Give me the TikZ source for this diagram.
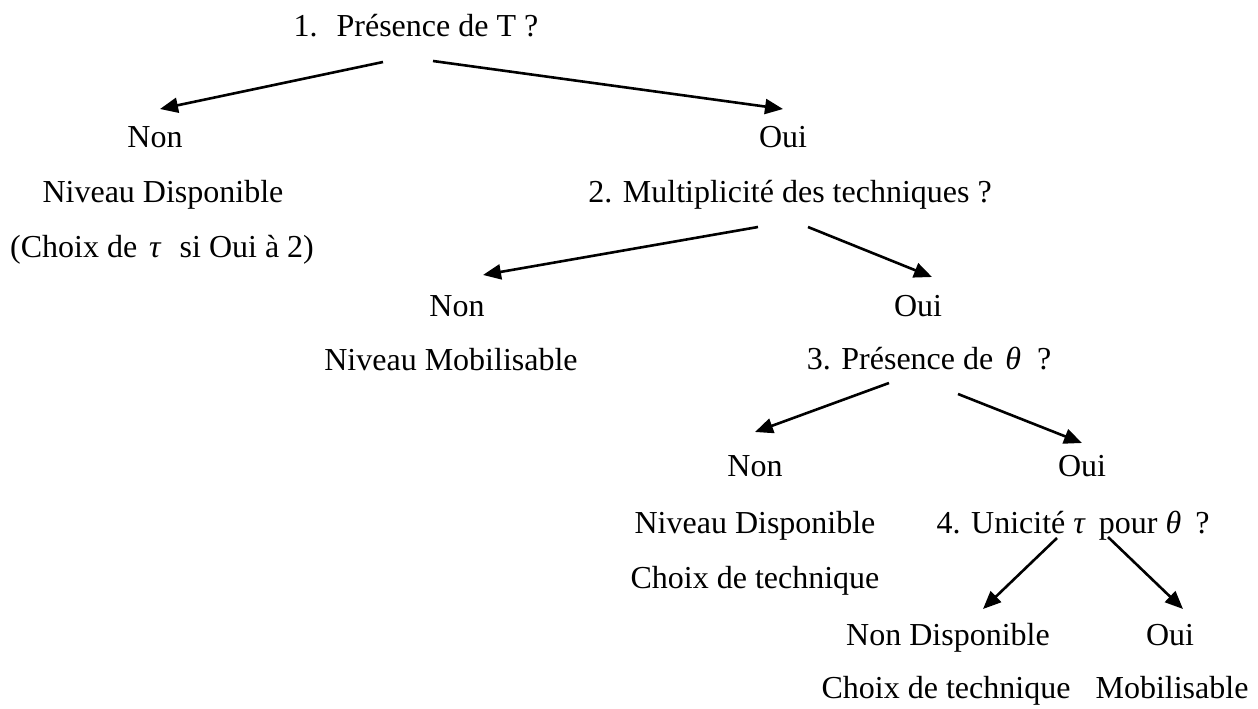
\documentclass[tikz,border=0pt]{standalone}
\usepackage{fontspec}
\setmainfont{Liberation Serif}
\usetikzlibrary{arrows.meta}
\definecolor{ink}{HTML}{000000}
\tikzset{
  lbl/.style={anchor=base,inner sep=0pt},
  arr/.style={-{Triangle[length=18pt,width=15pt]},line width=2.6pt,draw=ink}
}
\newcommand{\gr}[1]{{\itshape #1}}

\begin{document}
\begin{tikzpicture}[x=1pt,y=-1pt,font=\fontsize{32}{38}\selectfont,text=ink]
\useasboundingbox (0,0) rectangle (1258,709);
% labels sit on their baselines (y grows downwards)
\foreach \n/\x/\y/\t in {
  q1/416/37/{1.\hspace{19pt}Présence de T ?},
  non1/155/147/Non,
  nd1/163/202/Niveau Disponible,
  ch1/162/257/{(Choix de\hspace{4pt} \gr{τ}\hspace{11pt} si Oui à 2)},
  oui1/783/147/Oui,
  q2/790/202/{2. Multiplicité des techniques ?},
  non2/457/316/Non,
  nm2/451/370/Niveau Mobilisable,
  oui2/918/316/Oui,
  q3/929/369/{3. Présence de\hspace{4pt} \gr{θ}\hspace{8pt} ?},
  non3/755/476/Non,
  nd3/755/533/Niveau Disponible,
  ch3/755/588/Choix de technique,
  oui3/1082/476/Oui,
  q4/1073/533/{4. Unicité \gr{τ}\hspace{6pt} pour \gr{θ}\hspace{6pt} ?},
  nd4/948/645/Non Disponible,
  ch4/946/698/Choix de technique,
  oui4/1170/645/Oui,
  mob4/1172/698/Mobilisable}
  \node[lbl] (\n) at (\x,\y) {\t};
% branches: start below the question, tip above the answer
\foreach \a/\ax/\ay/\b/\bx/\by in {
  q1/-33/25/non1/5/-38,
  q1/17/24/oui1/0/-38,
  q2/-32/25/non2/26/-41,
  q2/18/25/oui2/14/-39,
  q3/-40/14/non3/0/-44,
  q3/29/25/oui3/0/-33,
  q4/-16/5/nd4/35/-36,
  q4/35/4/oui4/13/-36}
  \draw[arr] ([shift={(\ax,\ay)}]\a.base) -- ([shift={(\bx,\by)}]\b.base);
\end{tikzpicture}
\end{document}
